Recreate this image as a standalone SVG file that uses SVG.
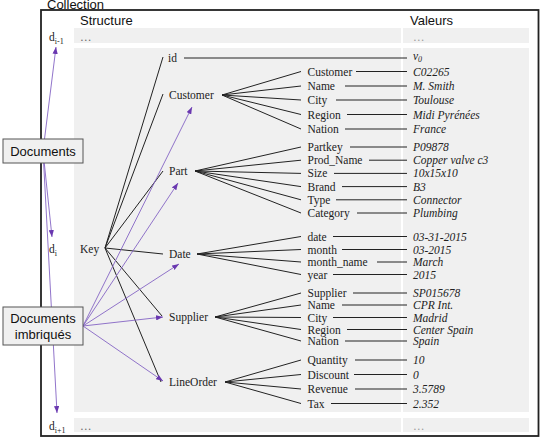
<svg xmlns="http://www.w3.org/2000/svg" width="544" height="440" viewBox="0 0 544 440">
<style>
.sans{font-family:"Liberation Sans",Arial,sans-serif;font-size:13px;fill:#111}
.t{font-family:"Liberation Serif","Times New Roman",serif;font-size:11.5px;fill:#222}
.v{font-family:"Liberation Serif","Times New Roman",serif;font-size:11.5px;font-style:italic;fill:#222}
.sub{font-size:8px}
.dots{font-family:"Liberation Serif",serif;font-size:11.5px;fill:#666}
.dotsv{font-family:"Liberation Serif",serif;font-size:11.5px;fill:#999}
.band{fill:#f0f0f0}
.ln{stroke:#222;stroke-width:1;fill:none}
.pl{stroke:#8464c4;stroke-width:0.9;fill:none}
.box{fill:#f0f0f0;stroke:#555;stroke-width:1}
</style>
<defs>
<marker id="ah" viewBox="0 0 8 6" refX="8" refY="3" markerWidth="7" markerHeight="5.5" markerUnits="userSpaceOnUse" orient="auto"><path d="M0,0 L8,3 L0,6 z" fill="#6a38b0"/></marker>
</defs>
<rect width="544" height="440" fill="#fff"/>
<text class="sans" x="47" y="9" font-size="12.5">Collection</text>
<rect x="41" y="10" width="497.5" height="426" fill="#fff" stroke="#222" stroke-width="1.8"/>
<text class="sans" x="80" y="25">Structure</text>
<text class="sans" x="410" y="25">Valeurs</text>
<!-- bands -->
<rect class="band" x="74" y="28" width="327" height="15"/>
<rect class="band" x="403" y="28" width="126" height="15"/>
<rect class="band" x="74" y="48" width="327" height="364"/>
<rect class="band" x="403" y="48" width="126" height="364"/>
<rect class="band" x="74" y="418" width="327" height="14"/>
<rect class="band" x="403" y="418" width="126" height="14"/>
<g id="rows">
<text class="t" x="49" y="41">d<tspan class="sub" dy="3">i-1</tspan></text>
<text class="dots" x="80" y="41">…</text>
<text class="dotsv" x="413" y="41">…</text>
<text class="t" x="49" y="253">d<tspan class="sub" dy="3">i</tspan></text>
<text class="t" x="49" y="430">d<tspan class="sub" dy="3">i+1</tspan></text>
<text class="dots" x="80" y="430">…</text>
<text class="dotsv" x="413" y="430">…</text>
</g>
<g id="connectors">
<!-- Key to nodes -->
<path class="ln" d="M105,248 L163,57 M105,248 L163,94 M105,248 L163,171 M105,248 L163,254 M105,248 L162,316 M105,248 L161,382"/>
<!-- id value -->
<path class="ln" d="M184,58 L407,58"/>
<!-- Customer fan -->
<path class="ln" d="M222,95 L301,71.5 M222,95 L301,86 M222,95 L301,100 M222,95 L301,114.5 M222,95 L301,129"/>
<!-- Part fan -->
<path class="ln" d="M195,171 L301,147 M195,171 L301,160.2 M195,171 L301,173.4 M195,171 L301,186.6 M195,171 L301,199.8 M195,171 L301,213"/>
<!-- Date fan -->
<path class="ln" d="M197,254 L301,236.5 M197,254 L301,249.5 M197,254 L301,262 M197,254 L301,274.5"/>
<!-- Supplier fan -->
<path class="ln" d="M215,317 L301,293 M215,317 L301,305 M215,317 L301,317.5 M215,317 L301,329.5 M215,317 L301,341"/>
<!-- LineOrder fan -->
<path class="ln" d="M225,382 L301,360 M225,382 L301,374.5 M225,382 L301,389 M225,382 L301,403.5"/>
<!-- child to value -->
<path class="ln" d="M356,71.5 L407,71.5 M345,86 L407,86 M336,100 L407,100 M347,114.5 L407,114.5 M345,129 L407,129
M350,147 L407,147 M369,160.2 L407,160.2 M334,173.4 L407,173.4 M342,186.6 L407,186.6 M336,199.8 L407,199.8 M357,213 L407,213
M333,236.5 L407,236.5 M342,249.5 L407,249.5 M377,262 L407,262 M333,274.5 L407,274.5
M353,293 L407,293 M342,305 L407,305 M333,317.5 L407,317.5 M347,329.5 L407,329.5 M345,341 L407,341
M355,360 L407,360 M354,374.5 L407,374.5 M355,389 L407,389 M331,403.5 L407,403.5"/>
<!-- purple arrows: Documents -->
<path class="pl" d="M43,151 L56,47" marker-end="url(#ah)"/>
<path class="pl" d="M43,151 L52,237" marker-end="url(#ah)"/>
<path class="pl" d="M43,151 L57,413" marker-end="url(#ah)"/>
<!-- purple arrows: nested documents -->
<path class="pl" d="M83,326 L192,107" marker-end="url(#ah)"/>
<path class="pl" d="M83,326 L178,183" marker-end="url(#ah)"/>
<path class="pl" d="M83,326 L179,264" marker-end="url(#ah)"/>
<path class="pl" d="M83,326 L163,317" marker-end="url(#ah)"/>
<path class="pl" d="M83,326 L163,381" marker-end="url(#ah)"/>
</g>
<g id="node-key"><text class="t" x="80" y="253">Key</text></g>
<g id="node-id"><text class="t" x="168" y="62">id</text><text class="v" x="413" y="60">v<tspan class="sub" dy="2">0</tspan></text></g>
<g id="node-customer">
<text class="t" x="169" y="99">Customer</text>
<text class="t" x="307.5" y="75.5">Customer</text><text class="v" x="413" y="75.5">C02265</text>
<text class="t" x="307.5" y="90">Name</text><text class="v" x="413" y="90">M. Smith</text>
<text class="t" x="307.5" y="104">City</text><text class="v" x="413" y="104">Toulouse</text>
<text class="t" x="307.5" y="118.5">Region</text><text class="v" x="413" y="118.5">Midi Pyrénées</text>
<text class="t" x="307.5" y="133">Nation</text><text class="v" x="413" y="133">France</text>
</g>
<g id="node-part">
<text class="t" x="169" y="175">Part</text>
<text class="t" x="307.5" y="151">Partkey</text><text class="v" x="413" y="151">P09878</text>
<text class="t" x="307.5" y="164.2">Prod_Name</text><text class="v" x="413" y="164.2">Copper valve c3</text>
<text class="t" x="307.5" y="177.4">Size</text><text class="v" x="413" y="177.4">10x15x10</text>
<text class="t" x="307.5" y="190.6">Brand</text><text class="v" x="413" y="190.6">B3</text>
<text class="t" x="307.5" y="203.8">Type</text><text class="v" x="413" y="203.8">Connector</text>
<text class="t" x="307.5" y="217">Category</text><text class="v" x="413" y="217">Plumbing</text>
</g>
<g id="node-date">
<text class="t" x="169" y="258">Date</text>
<text class="t" x="307.5" y="240.5">date</text><text class="v" x="413" y="240.5">03-31-2015</text>
<text class="t" x="307.5" y="253.5">month</text><text class="v" x="413" y="253.5">03-2015</text>
<text class="t" x="307.5" y="266">month_name</text><text class="v" x="413" y="266">March</text>
<text class="t" x="307.5" y="278.5">year</text><text class="v" x="413" y="278.5">2015</text>
</g>
<g id="node-supplier">
<text class="t" x="169" y="321">Supplier</text>
<text class="t" x="307.5" y="297">Supplier</text><text class="v" x="413" y="297">SP015678</text>
<text class="t" x="307.5" y="309">Name</text><text class="v" x="413" y="309">CPR Int.</text>
<text class="t" x="307.5" y="321.5">City</text><text class="v" x="413" y="321.5">Madrid</text>
<text class="t" x="307.5" y="333.5">Region</text><text class="v" x="413" y="333.5">Center Spain</text>
<text class="t" x="307.5" y="345">Nation</text><text class="v" x="413" y="345">Spain</text>
</g>
<g id="node-lineorder">
<text class="t" x="169" y="386">LineOrder</text>
<text class="t" x="307.5" y="364">Quantity</text><text class="v" x="413" y="364">10</text>
<text class="t" x="307.5" y="378.5">Discount</text><text class="v" x="413" y="378.5">0</text>
<text class="t" x="307.5" y="393">Revenue</text><text class="v" x="413" y="393">3.5789</text>
<text class="t" x="307.5" y="407.5">Tax</text><text class="v" x="413" y="407.5">2.352</text>
</g>
<g id="node-documents">
<rect class="box" x="3" y="139" width="80" height="24"/>
<text class="sans" x="43" y="156" text-anchor="middle">Documents</text>
</g>
<g id="node-documents-imbriques">
<rect class="box" x="3" y="307" width="80" height="38"/>
<text class="sans" x="43" y="323" text-anchor="middle">Documents</text>
<text class="sans" x="43" y="339" text-anchor="middle">imbriqués</text>
</g>
</svg>
